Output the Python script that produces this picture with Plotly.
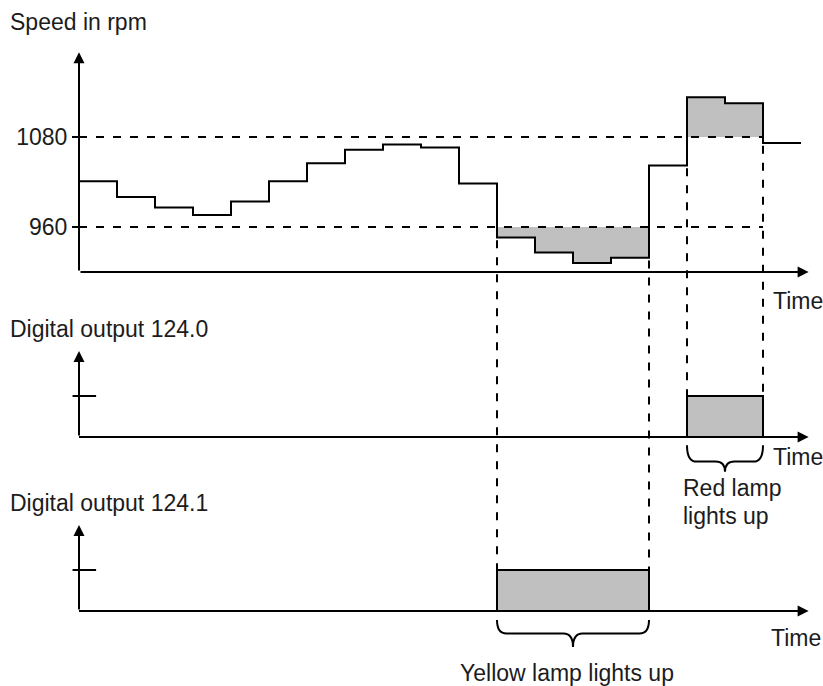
import plotly.graph_objects as go

# speed per time step (rpm), one value per step
speed = [1021, 1000, 986, 976, 994, 1021, 1045, 1063, 1070, 1066,
         1018, 946, 926, 912, 919, 1042, 1133, 1125, 1072]
upper_limit = 1080
lower_limit = 960
speed_ticks = [960, 1080]
speed_tick_text = ["960", "1080"]
speed_base = 900

steps = list(range(len(speed) + 1))
red_lamp = [1 if s > upper_limit else 0 for s in speed]       # output 124.0
yellow_lamp = [1 if s < lower_limit else 0 for s in speed]    # output 124.1

W, H = 823, 686
GREY = "#c0c0c0"
INK = "#1c1c1c"
FONT = "Liberation Sans, Arial, sans-serif"

# axis ranges chosen so the three strips sit where they do in the sheet
x_range = [-79 / 38, (W - 79) / 38]
y1_range = [lower_limit - (H - 227) / 0.75, lower_limit + 227 / 0.75]
y2_range = [-(H - 437) / 41, 437 / 41]
y3_range = [-(H - 611) / 41, 611 / 41]


def paper(v, r):
    return (v - r[0]) / (r[1] - r[0])


def runs(flags):
    out, start = [], None
    for i, f in enumerate(flags + [0]):
        if f and start is None:
            start = i
        elif not f and start is not None:
            out.append((start, i))
            start = None
    return out


def band(values, limit, flags):
    xs, ys = [], []
    for a, b in runs(flags):
        xs.append(a); ys.append(limit)
        for i in range(a, b):
            xs += [i, i + 1]; ys += [values[i], values[i]]
        xs += [b, None]; ys += [limit, None]
    return xs, ys


def brace(x0, x1, yt, yf, yp, r=0.25):
    xm = (x0 + x1) / 2
    return (f"M {x0},{yt} Q {x0},{yf} {x0 + r},{yf} L {xm - r},{yf} "
            f"Q {xm},{yf} {xm},{yp} Q {xm},{yf} {xm + r},{yf} "
            f"L {x1 - r},{yf} Q {x1},{yf} {x1},{yt}")


fig = go.Figure()

# shaded excursions in the speed strip
for flags, limit in [(yellow_lamp, lower_limit), (red_lamp, upper_limit)]:
    bx, by = band(speed, limit, flags)
    fig.add_trace(go.Scatter(x=bx, y=by, mode="lines", fill="toself",
                             fillcolor=GREY, line=dict(width=0),
                             hoverinfo="skip", yaxis="y"))

# limit lines
for lim in [upper_limit, lower_limit]:
    fig.add_trace(go.Scatter(x=[0, 18], y=[lim, lim], mode="lines",
                             line=dict(color="black", width=2, dash="8px,9px"),
                             hoverinfo="skip", yaxis="y"))

# speed step curve
fig.add_trace(go.Scatter(x=steps, y=speed + [speed[-1]], mode="lines",
                         line=dict(color="black", width=2, shape="hv"),
                         yaxis="y"))

# digital outputs
for lamp, ax in [(red_lamp, "y2"), (yellow_lamp, "y3")]:
    fig.add_trace(go.Scatter(x=steps, y=lamp + [lamp[-1]], mode="lines",
                             fill="tozeroy", fillcolor=GREY,
                             line=dict(color="black", width=2, shape="hv"),
                             yaxis=ax))

shapes = []
# dashed drop lines from the speed curve to the lamp pulses
for flags, rng in [(red_lamp, y2_range), (yellow_lamp, y3_range)]:
    for a, b in runs(flags):
        for t in (a, b):
            v = min(speed[t - 1], speed[t])
            shapes.append(dict(type="line", xref="x", yref="paper",
                               x0=t, x1=t, y0=paper(v, y1_range) - 0.004,
                               y1=paper(1, rng),
                               line=dict(color="black", width=2, dash="8px,9px")))

# level-1 ticks on the digital strips
for ax in ["y2", "y3"]:
    shapes.append(dict(type="line", xref="x", yref=ax, x0=-0.17, x1=0.45,
                       y0=1, y1=1, line=dict(color="black", width=2)))

# braces under the pulses
(ra, rb), = runs(red_lamp)
(ya, yb), = runs(yellow_lamp)
shapes.append(dict(type="path", xref="x", yref="y2",
                   path=brace(ra, rb, -0.2, -0.6, -0.85),
                   line=dict(color="black", width=2)))
shapes.append(dict(type="path", xref="x", yref="y3",
                   path=brace(ya, yb, -0.22, -0.55, -0.88),
                   line=dict(color="black", width=2)))

annotations = []
# axes drawn as arrows
for ax, lo, hi in [("y", speed_base, 1193), ("y2", 0, 2.1), ("y3", 0, 2.1)]:
    annotations.append(dict(x=0, y=hi, ax=0, ay=lo, xref="x", yref=ax,
                            axref="x", ayref=ax, text="", showarrow=True,
                            arrowhead=2, arrowsize=1.1, arrowwidth=2,
                            arrowcolor="black", standoff=0, startstandoff=0))
    annotations.append(dict(x=19.2, y=lo, ax=0, ay=lo, xref="x", yref=ax,
                            axref="x", ayref=ax, text="", showarrow=True,
                            arrowhead=2, arrowsize=1.1, arrowwidth=2,
                            arrowcolor="black", standoff=0, startstandoff=0))


def label(text, px, py, anchor="left"):
    annotations.append(dict(text=text, x=px / W, y=1 - py / H, xref="paper",
                            yref="paper", xanchor=anchor, yanchor="middle",
                            showarrow=False, font=dict(size=23, color=INK, family=FONT)))


label("Speed in rpm", 8, 22)
label("Time", 771, 301)
label("Digital output 124.0", 8, 329)
label("Time", 771, 457)
label("Red lamp", 681, 488)
label("lights up", 681, 516)
label("Digital output 124.1", 8, 503)
label("Time", 769, 638)
label("Yellow lamp lights up", 567, 673, "center")

hidden = dict(visible=False, showgrid=False, zeroline=False)
fig.update_layout(
    width=W, height=H,
    margin=dict(l=0, r=0, t=0, b=0),
    paper_bgcolor="white", plot_bgcolor="white",
    showlegend=False,
    font=dict(family=FONT, color=INK),
    xaxis=dict(range=x_range, domain=[0, 1], **hidden),
    yaxis=dict(range=y1_range, domain=[0, 1], anchor="free", position=79 / W,
               showline=False, showgrid=False, zeroline=False,
               tickvals=speed_ticks, ticktext=speed_tick_text,
               ticks="outside", ticklen=7, tickwidth=2, tickcolor="black",
               tickfont=dict(size=23, color=INK, family=FONT)),
    yaxis2=dict(range=y2_range, overlaying="y", **hidden),
    yaxis3=dict(range=y3_range, overlaying="y", **hidden),
    shapes=shapes,
    annotations=annotations,
)

fig.write_html("out.html", config={"displayModeBar": False},
               post_script="document.body.style.margin='0';")
